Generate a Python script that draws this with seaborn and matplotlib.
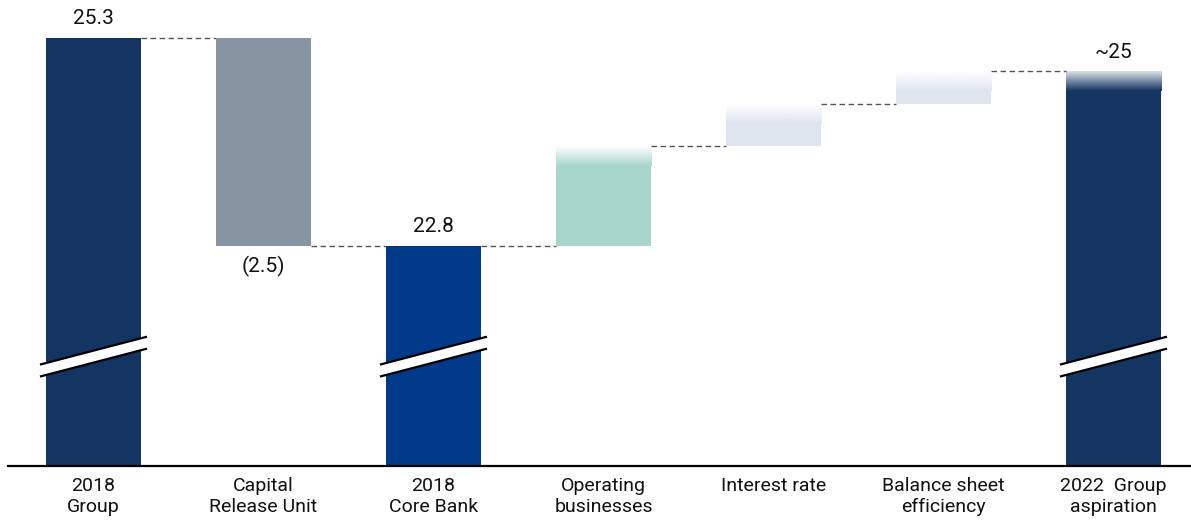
import numpy as np
import seaborn as sns
import matplotlib.pyplot as plt
from matplotlib.colors import to_rgb
from matplotlib.patches import Polygon

# Daten (Wasserfall)
labels = ["2018\nGroup", "Capital\nRelease Unit", "2018\nCore Bank", "Operating\nbusinesses",
          "Interest rate", "Balance sheet\nefficiency", "2022  Group\naspiration"]
values = [25.3, -2.5, 22.8, 1.2, 0.5, 0.4, 24.9]
is_total = [True, False, True, False, False, False, True]
value_text = ["25.3", "(2.5)", "22.8", "", "", "", "~25"]
colors = ["#143561", "#8794a2", "#013a88", "#a8d6cc", "#dfe5ef", "#dfe5ef", "#143561"]
fade_top = [0, 0, 0, 0.0, 0.0, 0.0, 0.15]   # alpha at the very top of the faded bars
faded = [False, False, False, True, True, True, True]
broken = [True, False, True, False, False, False, True]

sns.set_style("white")
plt.rcParams['font.family'] = ['Roboto', 'DejaVu Sans']

# bottoms / heights
bottoms, heights, levels = [], [], []
level = 0.0
for v, tot in zip(values, is_total):
    if tot:
        bottoms.append(0.0)
        heights.append(v)
        level = v
    else:
        bottoms.append(level)
        heights.append(v)
        level = level + v
    levels.append(level)

fig = plt.figure(figsize=(11.91, 5.2), dpi=100)
ax = fig.add_axes([8 / 1191, 54 / 520, 1183 / 1191, 466 / 520])

sns.barplot(x=labels, y=heights, bottom=bottoms, width=0.56, errorbar=None,
            color=colors[0], linewidth=0, ax=ax)

ax.set_xlim(-0.503, 6.456)
ax.set_ylim(20.15, 25.757)

patches = ax.patches[:len(values)]
for p, c in zip(patches, colors):
    p.set_facecolor(c)
    p.set_edgecolor("none")
    p.set_zorder(2)

# gradient on the top of some bars
fade = 0.24
for i, p in enumerate(patches):
    if not faded[i]:
        continue
    x0, w = p.get_x(), p.get_width()
    top = p.get_y() + p.get_height()
    p.set_height(p.get_height() - fade)
    n = 64
    img = np.zeros((n, 1, 4))
    img[:, 0, :3] = to_rgb(colors[i])
    img[:, 0, 3] = np.linspace(1, fade_top[i], n)
    ax.imshow(img, extent=[x0, x0 + w, top - fade, top], aspect='auto',
              origin='lower', zorder=2, interpolation='bilinear')

# dashed connectors
for i in range(len(patches) - 1):
    a, b = patches[i], patches[i + 1]
    ax.plot([a.get_x() + a.get_width(), b.get_x()], [levels[i], levels[i]],
            color="#555555", lw=1, ls=(0, (4, 2.5)), zorder=1)

# axis break marks
y_mid, rise, gap = 21.466, 0.168, 0.072
for i, p in enumerate(patches):
    if not broken[i]:
        continue
    cx = p.get_x() + p.get_width() / 2
    half = p.get_width() / 2 + 0.035
    xs = [cx - half, cx + half]
    poly = Polygon([(xs[0], y_mid - rise - gap), (xs[1], y_mid + rise - gap),
                    (xs[1], y_mid + rise + gap), (xs[0], y_mid - rise + gap)],
                   closed=True, facecolor="white", edgecolor="none", zorder=4)
    ax.add_patch(poly)
    for s in (-gap, gap):
        ax.plot(xs, [y_mid - rise + s, y_mid + rise + s], color="black", lw=1.6,
                zorder=5, solid_capstyle='butt')

# value labels
for i, p in enumerate(patches):
    if not value_text[i]:
        continue
    cx = p.get_x() + p.get_width() / 2
    if values[i] < 0:
        ax.annotate(value_text[i], (cx, levels[i]), xytext=(0, -7), textcoords='offset points',
                    ha='center', va='top', fontsize=15, color="#111111")
    else:
        ax.annotate(value_text[i], (cx, levels[i]), xytext=(0, 7), textcoords='offset points',
                    ha='center', va='bottom', fontsize=15, color="#111111")

for side in ["top", "right", "left"]:
    ax.spines[side].set_visible(False)
ax.spines["bottom"].set_color("black")
ax.spines["bottom"].set_linewidth(1.6)
ax.set_yticks([])
ax.set_xlabel("")
ax.set_ylabel("")
ax.tick_params(axis='x', length=0, pad=8, labelsize=14, labelcolor="#111111")

fig.savefig("out.png", dpi=100, facecolor="white")
